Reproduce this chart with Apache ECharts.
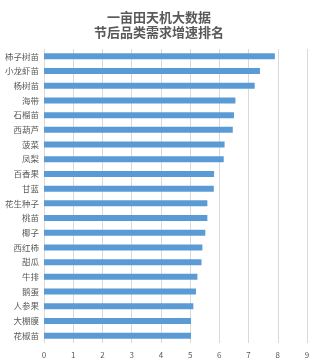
<!DOCTYPE html>
<html>
<head>
<meta charset="utf-8">
<script src="https://cdn.jsdelivr.net/npm/echarts@6/dist/echarts.min.js"></script>
<style>
  html, body { margin: 0; padding: 0; background: #fff; }
  #main { width: 318px; height: 362px; }
</style>
</head>
<body>
<div id="main"></div>
<script>
// 品类（从上到下）
var categories = ['柿子树苗', '小龙虾苗', '杨树苗', '海带', '石榴苗', '西葫芦', '菠菜', '凤梨', '百香果', '甘蓝',
  '花生种子', '桃苗', '椰子', '西红柿', '甜瓜', '牛排', '鹅蛋', '人参果', '大棚膜', '花椒苗'];
// 需求增速
var values = [7.9, 7.39, 7.21, 6.55, 6.5, 6.46, 6.18, 6.15, 5.82, 5.81,
  5.59, 5.59, 5.52, 5.42, 5.39, 5.25, 5.2, 5.11, 5.03, 5.03];

var myChart = echarts.init(document.getElementById('main'));
var font = '"Noto Sans CJK SC", sans-serif';
var option = {
  animation: false,
  title: {
    text: '一亩田天机大数据\n节后品类需求增速排名',
    left: 'center',
    top: 5,
    textStyle: { fontSize: 13, fontWeight: 'bold', color: '#595959', lineHeight: 15, fontFamily: font }
  },
  grid: { left: 44, right: 11, top: 49, bottom: 19 },
  xAxis: {
    type: 'value',
    min: 0,
    max: 9,
    interval: 1,
    axisLine: { show: false },
    axisTick: { show: false },
    axisLabel: { fontSize: 8, color: '#595959', margin: 8, fontFamily: font },
    splitLine: { lineStyle: { color: '#d9d9d9', width: 1 } }
  },
  yAxis: {
    type: 'category',
    inverse: true,
    data: categories,
    axisLine: { show: false },
    axisTick: { show: false },
    axisLabel: { fontSize: 8.5, color: '#595959', margin: 5, fontFamily: font }
  },
  series: [{
    type: 'bar',
    data: values,
    barWidth: 6,
    itemStyle: { color: '#5B9BD5' }
  }]
};
myChart.setOption(option);
</script>
</body>
</html>
